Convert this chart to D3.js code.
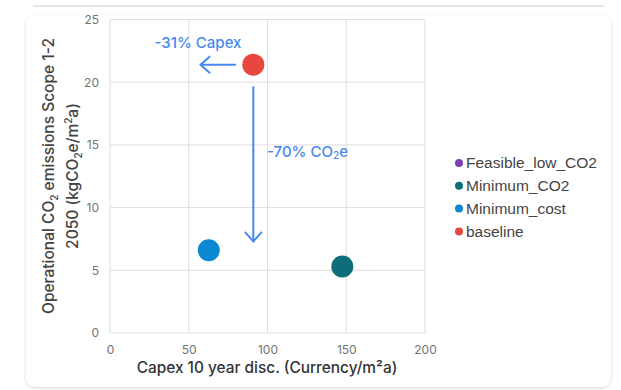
<!DOCTYPE html>
<html>
<head>
<meta charset="utf-8">
<script src="https://cdn.jsdelivr.net/npm/d3@7"></script>
<style>
  body { margin: 0; background: #fff; font-family: Inter, "Noto Sans", sans-serif; }
</style>
</head>
<body>
<div id="chart"></div>
<script>
// series and values
const seriesNames = ["Feasible_low_CO2", "Minimum_CO2", "Minimum_cost", "baseline"];
const seriesColors = ["#7b3fb6", "#0d6e7a", "#0a88d2", "#e8473f"];
const capex = [null, 147.5, 62.7, 91];
const emissions = [null, 5.3, 6.6, 21.4];
const xTicks = [0, 50, 100, 150, 200];
const yTicks = [0, 5, 10, 15, 20, 25];

const width = 621, height = 390;
const svg = d3.select("#chart").append("svg")
  .attr("width", width)
  .attr("height", height);

// card backgrounds
const defs = svg.append("defs");
const f = defs.append("filter").attr("id", "sh").attr("x", -0.1).attr("y", -0.1).attr("width", 1.2).attr("height", 1.2);
f.append("feDropShadow").attr("dx", 0).attr("dy", 1).attr("stdDeviation", 1.5).attr("flood-color", "#000").attr("flood-opacity", 0.18);

svg.append("line")
  .attr("x1", 33).attr("x2", 604).attr("y1", 6).attr("y2", 6)
  .attr("stroke", "#e6e6e6").attr("stroke-width", 2);

svg.append("rect")
  .attr("x", 26).attr("y", 15).attr("width", 585).attr("height", 372)
  .attr("rx", 9)
  .attr("fill", "#fff")
  .attr("filter", "url(#sh)");

const x = d3.scaleLinear().domain([0, 200]).range([110, 425]);
const y = d3.scaleLinear().domain([0, 25]).range([333, 19.5]);

// grid
const grid = svg.append("g");
grid.selectAll(".vx").data(xTicks).join("line")
  .attr("x1", d => x(d)).attr("x2", d => x(d))
  .attr("y1", y(0)).attr("y2", y(25))
  .attr("stroke", "#dedede").attr("stroke-width", 1);
grid.selectAll(".hy").data(yTicks).join("line")
  .attr("y1", d => y(d)).attr("y2", d => y(d))
  .attr("x1", x(0)).attr("x2", x(200))
  .attr("stroke", "#dedede").attr("stroke-width", 1);

// axes (labels only)
const xAxis = svg.append("g")
  .attr("transform", `translate(0,${y(0)})`)
  .call(d3.axisBottom(x).tickValues(xTicks).tickSize(0).tickPadding(12));
const yAxis = svg.append("g")
  .attr("transform", `translate(${x(0)},0)`)
  .call(d3.axisLeft(y).tickValues(yTicks).tickSize(0).tickPadding(11));
[xAxis, yAxis].forEach(a => {
  a.select(".domain").remove();
  a.selectAll("text").attr("fill", "#737373").style("font-size", "12px").style("font-family", "Inter, sans-serif");
});

// axis titles
svg.append("text")
  .attr("x", 267).attr("y", 373)
  .attr("text-anchor", "middle")
  .attr("fill", "#333").style("font-size", "15.4px").style("font-weight", 500)
  .text("Capex 10 year disc. (Currency/m²a)");

const yt = svg.append("text")
  .attr("transform", "translate(54,176) rotate(-90)")
  .attr("text-anchor", "middle")
  .attr("fill", "#444").style("font-size", "15.5px").style("font-weight", 500);
yt.append("tspan").attr("x", 0).attr("dy", 0).text("Operational CO")
  .append("tspan").attr("dy", 4).style("font-size", "10px").text("2");
yt.append("tspan").attr("dy", -4).text(" emissions Scope 1-2");
const yt2 = svg.append("text")
  .attr("transform", "translate(78,176) rotate(-90)")
  .attr("text-anchor", "middle")
  .attr("fill", "#444").style("font-size", "15.5px").style("font-weight", 500);
yt2.append("tspan").text("2050 (kgCO");
yt2.append("tspan").attr("dy", 4).style("font-size", "10px").text("2");
yt2.append("tspan").attr("dy", -4).text("e/m");
yt2.append("tspan").attr("dy", -6).style("font-size", "10px").text("2");
yt2.append("tspan").attr("dy", 6).text("a)");

// points
const pts = seriesNames.map((s, i) => ({ name: s, color: seriesColors[i], cx: capex[i], cy: emissions[i] }))
  .filter(d => d.cx !== null);
svg.append("g").selectAll("circle").data(pts).join("circle")
  .attr("cx", d => x(d.cx))
  .attr("cy", d => y(d.cy))
  .attr("r", 11)
  .attr("fill", d => d.color);

// annotations
const blue = "#4688f0";
const ann = svg.append("g").attr("stroke", blue).attr("stroke-width", 2).attr("fill", "none")
  .attr("stroke-linecap", "round").attr("stroke-linejoin", "round");
const hy = y(21.4), hx1 = x(79.5), hx2 = x(57.5);
ann.append("line").attr("x1", hx1).attr("x2", hx2).attr("y1", hy).attr("y2", hy);
ann.append("polyline").attr("points", `${hx2 + 9},${hy - 8} ${hx2},${hy} ${hx2 + 9},${hy + 8}`);
const vx = x(91), vy1 = y(19.6), vy2 = y(7.3);
ann.append("line").attr("x1", vx).attr("x2", vx).attr("y1", vy1).attr("y2", vy2);
ann.append("polyline").attr("points", `${vx - 8},${vy2 - 9} ${vx},${vy2} ${vx + 8},${vy2 - 9}`);

svg.append("text")
  .attr("x", 198).attr("y", 48)
  .attr("text-anchor", "middle")
  .attr("fill", blue).style("font-size", "15px").style("font-weight", 500)
  .text("-31% Capex");
const t2 = svg.append("text")
  .attr("x", 267).attr("y", 157)
  .attr("fill", blue).style("font-size", "15px").style("font-weight", 500);
t2.append("tspan").text("-70% CO");
t2.append("tspan").style("font-size", "10px").attr("dy", 2).text("2");
t2.append("tspan").attr("dy", -2).text("e");

// legend
const leg = svg.append("g").attr("transform", "translate(459,163)");
const li = leg.selectAll("g").data(seriesNames).join("g")
  .attr("transform", (d, i) => `translate(0,${i * 22.8})`);
li.append("circle").attr("r", 4).attr("fill", (d, i) => seriesColors[i]);
li.append("text").attr("x", 7).attr("dy", "0.35em")
  .attr("fill", "#444").style("font-size", "15.5px").style("font-family", "'Liberation Sans', Arial, sans-serif")
  .text(d => d);
</script>
</body>
</html>
